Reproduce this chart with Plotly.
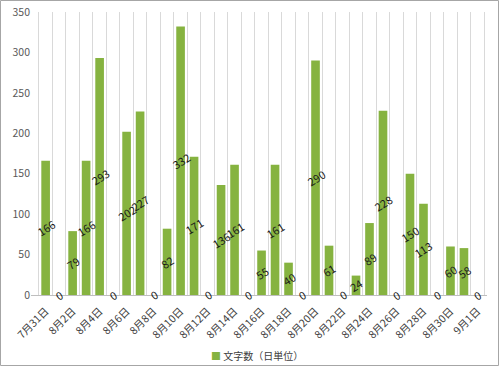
import plotly.graph_objects as go

dates = ["7月31日"] + [f"8月{d}日" for d in range(1, 32)] + ["9月1日"]
counts = [166, 0, 79, 166, 293, 0, 202, 227, 0, 82, 332, 171, 0, 136, 161, 0,
          55, 161, 40, 0, 290, 61, 0, 24, 89, 228, 0, 150, 113, 0, 60, 58, 0]
tick_text = [d if i % 2 == 0 else "" for i, d in enumerate(dates)]
series_name = "文字数（日単位）"
y_ticks = [0, 50, 100, 150, 200, 250, 300, 350]

FONT = "Noto Sans CJK JP, sans-serif"
BAR = "#86b340"
W, H = 500, 367
L, R, T, B = 31, 13, 12, 72
pw, ph = W - L - R, H - T - B

fig = go.Figure()
fig.add_trace(go.Bar(
    x=dates, y=counts, name=series_name,
    marker=dict(color=BAR, line=dict(width=0)),
    showlegend=False,
))

for d, v in zip(dates, counts):
    fig.add_annotation(x=d, y=v / 2, text=str(v), showarrow=False,
                       textangle=-32, font=dict(family=FONT, size=11, color="#1a1a1a"),
                       xanchor="center", yanchor="middle")

# legend (marker + name)
fig.add_annotation(xref="paper", yref="paper", x=(209 - L) / pw, y=-(355 - T - ph) / ph,
                   xanchor="left", yanchor="middle", showarrow=False,
                   text=f"<span style='color:{BAR}'>■</span> {series_name}",
                   font=dict(family=FONT, size=10, color="#404040"))

fig.add_shape(type="rect", xref="paper", yref="paper",
              x0=(0.5 - L) / pw, x1=(W - 1.5 - L) / pw,
              y0=-(B - 1.5) / ph,
              y1=1 + (T - 0.5) / ph,
              line=dict(color="#a6a6a6", width=1), fillcolor="rgba(0,0,0,0)", layer="above")

fig.update_layout(
    width=W, height=H,
    margin=dict(l=L, r=R, t=T, b=B, autoexpand=False),
    paper_bgcolor="white", plot_bgcolor="white",
    bargap=0.36,
    font=dict(family=FONT, size=10, color="#595959"),
    xaxis=dict(type="category", tickmode="array", tickvals=dates, ticktext=tick_text,
               tickangle=-45, tickson="boundaries", showgrid=True, gridcolor="#d9d9d9",
               gridwidth=1, ticks="", showline=True, linecolor="#bfbfbf", automargin=False,
               ticklabelstandoff=5,
               tickfont=dict(family=FONT, size=10.5, color="#404040")),
    yaxis=dict(range=[0, 350], tickvals=y_ticks, showgrid=False, zeroline=False,
               showline=False, ticks="", automargin=False,
               tickfont=dict(family=FONT, size=10.5, color="#595959")),
)

fig.write_html("out.html", config={"displayModeBar": False},
               post_script="document.body.style.margin='0';document.body.style.overflow='hidden';")
